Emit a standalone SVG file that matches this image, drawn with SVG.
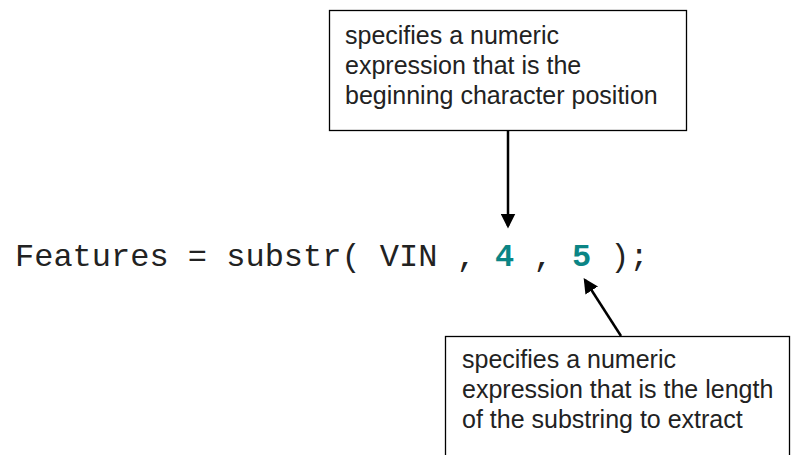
<svg xmlns="http://www.w3.org/2000/svg" width="791" height="455" viewBox="0 0 791 455">
  <style>
    .box { fill: #ffffff; stroke: #000000; stroke-width: 1.3; }
    .note { font-family: "Liberation Sans", Arial, sans-serif; font-size: 25px; fill: #222222; }
    .code { font-family: "Liberation Mono", "Courier New", monospace; font-size: 32px; fill: #222222; }
    .arg { fill: #0b8585; font-weight: bold; }
    .conn { stroke: #000000; stroke-width: 2.5; fill: none; }
  </style>
  <defs>
    <marker id="head" markerWidth="6" markerHeight="6" refX="5" refY="3" orient="auto" markerUnits="strokeWidth">
      <path d="M0,0 L6,3 L0,6 Z" fill="#000000"/>
    </marker>
  </defs>
  <rect width="791" height="455" fill="#ffffff"/>

  <g id="code-line">
    <text class="code" x="15" y="266" xml:space="preserve">Features = substr( VIN , <tspan class="arg">4</tspan> , <tspan class="arg">5</tspan> );</text>
  </g>

  <g id="connectors">
    <line class="conn" x1="508" y1="130" x2="508" y2="226" marker-end="url(#head)"/>
    <line class="conn" x1="621" y1="336" x2="585" y2="280" marker-end="url(#head)"/>
  </g>

  <g id="start-note">
    <rect class="box" x="329.5" y="10.5" width="357" height="120"/>
    <text class="note" x="345" y="44">specifies a numeric</text>
    <text class="note" x="345" y="74">expression that is the</text>
    <text class="note" x="345" y="104">beginning character position</text>
  </g>

  <g id="length-note">
    <rect class="box" x="445.5" y="336.5" width="344" height="130"/>
    <text class="note" x="462" y="368">specifies a numeric</text>
    <text class="note" x="462" y="398">expression that is the length</text>
    <text class="note" x="462" y="428">of the substring to extract</text>
  </g>
</svg>
